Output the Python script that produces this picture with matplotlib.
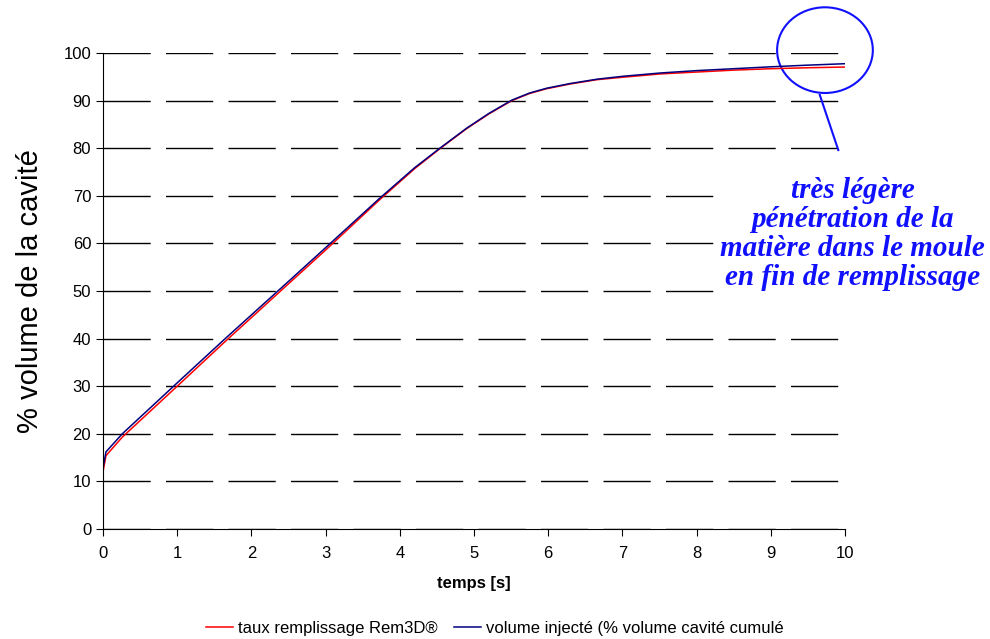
import numpy as np
import matplotlib.pyplot as plt
from matplotlib.patches import Ellipse

# données
t = [0, 0.04, 0.26, 1.0, 1.64, 2.52, 3.0, 3.73, 4.2, 4.54, 4.9, 5.2, 5.51, 5.75, 5.98, 6.3, 6.66, 7.0, 7.51, 8.0, 8.5, 9.0, 9.5, 10.0]
rem3d = [12.0, 15.4, 19.3, 30.0, 39.3, 51.8, 58.6, 69.2, 75.7, 79.9, 84.1, 87.2, 90.0, 91.5, 92.5, 93.5, 94.4, 94.9, 95.6, 96.0, 96.4, 96.7, 96.9, 97.05]
vol_inj = [12.8, 16.2, 20.0, 30.7, 39.9, 52.3, 59.1, 69.5, 75.9, 80.0, 84.2, 87.3, 90.1, 91.6, 92.6, 93.6, 94.5, 95.1, 95.8, 96.3, 96.7, 97.1, 97.45, 97.75]

plt.rcParams['font.family'] = ['Liberation Sans', 'DejaVu Sans']

fig = plt.figure(figsize=(9.9, 6.39), dpi=100)
ax = fig.add_axes([103 / 990, 1 - 529 / 639, 742 / 990, 476 / 639])

ax.plot(t, rem3d, color='red', linewidth=1.1, label='taux remplissage Rem3D®')
ax.plot(t, vol_inj, color='#000080', linewidth=1.1, label='volume injecté (% volume cavité cumulé')

ax.set_xlim(0, 10)
ax.set_ylim(0, 100)
ax.set_xticks(range(0, 11))
ax.set_yticks(range(0, 101, 10))
ax.yaxis.grid(True, color='black', linestyle=(0, (34, 11)), linewidth=1.0)
ax.set_axisbelow(True)
ax.spines['top'].set_visible(False)
ax.spines['right'].set_visible(False)
ax.tick_params(labelsize=12, direction='out', length=5)
ax.tick_params(axis='x', pad=7)
ax.set_xlabel('temps [s]', fontsize=12, fontweight='bold', labelpad=11)
ax.set_ylabel('% volume de la cavité', fontsize=21, labelpad=14)

# annotation
ell = Ellipse((9.73, 100.6), 1.29, 18, fill=False, edgecolor='#1010ff', linewidth=1.5, clip_on=False)
ax.add_patch(ell)
ax.plot([9.66, 9.91], [91.2, 79.6], color='#1010ff', linewidth=1.5, clip_on=False)
ax.text(10.1, 62.0, 'très légère\npénétration de la\nmatière dans le moule\nen fin de remplissage',
        ha='center', va='center', color='#1010ff', fontsize=21, fontweight='bold', fontstyle='italic',
        family=['Liberation Serif', 'DejaVu Serif'], linespacing=1.1, clip_on=False, zorder=5,
        bbox=dict(facecolor='white', edgecolor='none', pad=2))

fig.legend(loc='center', bbox_to_anchor=(0.5, 1 - 628 / 639), ncol=2, frameon=False, fontsize=12,
           handlelength=1.6, columnspacing=1.0, handletextpad=0.3)

fig.savefig('out.png', dpi=100)
